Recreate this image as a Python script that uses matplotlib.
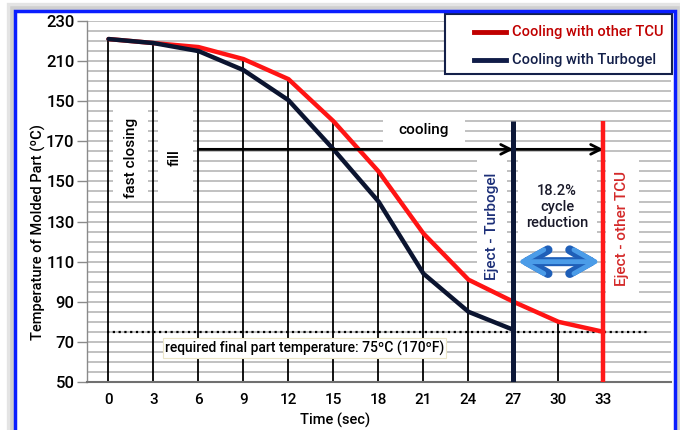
import matplotlib
matplotlib.use('Agg')
import matplotlib.pyplot as plt
from matplotlib.patches import Rectangle
from matplotlib.lines import Line2D

plt.rcParams['font.family'] = ['Roboto', 'DejaVu Sans']
FW = 'medium'

# ---------------- data ----------------
time_s = [0, 3, 6, 9, 12, 15, 18, 21, 24, 27, 30, 33]
other_tcu = [221, 219, 217, 211, 201, 180, 155, 124, 101, 90, 80, 75]
turbogel_t = [0, 3, 6, 9, 12, 15, 18, 21, 24, 27]
turbogel = [221, 219, 215, 205.5, 190.5, 166, 140, 104, 85, 76]
ytick_vals = [50, 70, 90, 110, 130, 150, 170, 190, 210, 230]
ytick_labels = ['50', '70', '90', '110', '130', '150', '170', '150', '210', '230']
xtick_labels = [str(t) for t in time_s]
required_temp = 75
eject_turbogel = 27
eject_other = 33
eject_top = 180
cooling_start = 6
cooling_level = 166
arrow_level = 110

W, H = 680, 430
fig = plt.figure(figsize=(W / 100, H / 100), dpi=100)
fig.patch.set_facecolor('white')

def fx(p):
    return p / W

def fy(p):
    return 1 - p / H

ax = fig.add_axes([fx(87), fy(382), (671 - 87) / W, (382 - 21) / H])
ax.set_xlim(-1.433, 37.5)
ax.set_ylim(50, 230)
ax.set_axisbelow(True)

# grid
ax.set_yticks(ytick_vals)
ax.set_yticklabels(ytick_labels)
ax.set_yticks(list(range(50, 231, 5)), minor=True)
ax.grid(which='both', axis='y', color='#bcbcbc', lw=1.3)
ax.grid(False, axis='x')

ax.set_xticks(time_s)
ax.set_xticklabels(xtick_labels)

for s in ['top', 'right']:
    ax.spines[s].set_visible(False)
ax.spines['left'].set_color('#8a8a8a')
ax.spines['left'].set_linewidth(1.0)
ax.spines['bottom'].set_color('#707070')
ax.spines['bottom'].set_linewidth(1.5)

ax.tick_params(axis='y', which='major', length=7, width=1, color='#8a8a8a',
               pad=2, labelsize=12)
ax.tick_params(axis='y', which='minor', length=0)
ax.tick_params(axis='x', length=0, pad=8, labelsize=11)
for lab in ax.get_yticklabels() + ax.get_xticklabels():
    lab.set_fontweight(FW)

# white boxes behind annotations (break the grid)
boxes = [
    (0.3, 142.2, 2.33, 44.9),
    (3.3, 142.2, 2.33, 44.9),
    (18.3, 169.2, 5.5, 12.9),
    (24.6, 95.9, 2.0, 64.8),
    (27.3, 120.8, 5.3, 39.9),
    (33.2, 93.4, 2.2, 67.3),
]
for (x0, y0, w, h) in boxes:
    ax.add_patch(Rectangle((x0, y0), w, h, facecolor='white', edgecolor='none', zorder=1))

# drop lines
drop_t = [t for t in time_s if t not in (eject_turbogel, eject_other)]
drop_v = [v for t, v in zip(time_s, other_tcu) if t not in (eject_turbogel, eject_other)]
ax.vlines(drop_t, 50, drop_v, color='black', lw=1.3, zorder=2)

# required temperature dotted line
ax.hlines(required_temp, -0.1, 36, color='black', linestyles=(0, (1, 1.6)), lw=1.6, zorder=3)

# curves
ax.plot(time_s, other_tcu, color='#ff1414', lw=3.2, zorder=4, solid_capstyle='round')
ax.plot(turbogel_t, turbogel, color='#0b1430', lw=3.2, zorder=5, solid_capstyle='round')

# eject lines
ax.vlines(eject_turbogel, 50, eject_top, color='#0d1838', lw=3.6, zorder=6)
ax.vlines(eject_other, 50, eject_top, color='#ff1a1a', lw=3.2, zorder=6)

# cooling arrows
for a, b in [(cooling_start, eject_turbogel), (eject_turbogel, eject_other)]:
    ax.annotate('', xy=(b, cooling_level), xytext=(a, cooling_level),
                arrowprops=dict(arrowstyle='->,head_length=0.7,head_width=0.35',
                                lw=2, color='black', shrinkA=0, shrinkB=0), zorder=5)

# blue double arrow
for lw, col in [(6.5, '#1f5fb8'), (3.5, '#4b9ce8')]:
    ax.annotate('', xy=(32.75, arrow_level), xytext=(27.3, arrow_level),
                arrowprops=dict(arrowstyle='<->,head_length=1.5,head_width=0.85',
                                lw=lw, color=col, shrinkA=0, shrinkB=0,
                                joinstyle='round', capstyle='round'), zorder=7)

# texts
ax.text(1.5, 161.7, 'fast closing', rotation=90, ha='center', va='center',
        fontsize=11, fontweight=FW, color='black', zorder=8)
ax.text(4.43, 161.7, 'fill', rotation=90, ha='center', va='center',
        fontsize=11, fontweight=FW, color='black', zorder=8)
ax.text(21.0, 175.6, 'cooling', ha='center', va='center',
        fontsize=11, fontweight=FW, color='black', zorder=8)
ax.text(25.57, 127.8, 'Eject - Turbogel', rotation=90, ha='center', va='center',
        fontsize=11, fontweight=FW, color='#1c2f78', zorder=8)
ax.text(34.23, 126.3, 'Eject - other TCU', rotation=90, ha='center', va='center',
        fontsize=11, fontweight=FW, color='#d42a2a', zorder=8)
ax.text(29.9, 137.3, '18.2%\ncycle\nreduction', ha='center', va='center',
        fontsize=10.5, fontweight=FW, color='#1a1a2a', linespacing=1.2, zorder=8)
ax.text(3.75, 67, 'required final part temperature: 75ºC (170ºF)', ha='left', va='center',
        fontsize=10, fontweight=FW, color='black', zorder=8,
        bbox=dict(boxstyle='square,pad=0.15', facecolor='white', edgecolor='#ece6c8', lw=0.8))

fig.text(fx(38), fy(232), 'Temperature of Molded Part (ºC)', rotation=90, ha='center',
         va='center', fontsize=10.5, fontweight=FW, color='black')
fig.text(fx(335), fy(420), 'Time (sec)', ha='center', va='center',
         fontsize=10.5, fontweight=FW, color='black')

# legend (drawn as a framed key)
fig.add_artist(Rectangle((fx(445), fy(74)), (672 - 445) / W, 60 / H, transform=fig.transFigure,
                         facecolor='white', edgecolor='#14204a', lw=1.5, zorder=10))
legend_items = [('Cooling with other TCU', '#c00000', '#c00000', 32),
                ('Cooling with Turbogel', '#101c48', '#14204a', 60)]
for label, lc, tc, yy in legend_items:
    fig.add_artist(Line2D([fx(474), fx(506)], [fy(yy), fy(yy)], color=lc, lw=3.5,
                          transform=fig.transFigure, zorder=11))
    fig.text(fx(512), fy(yy), label, ha='left', va='center', fontsize=10.5,
             fontweight=FW, color=tc, zorder=11)

# frame with soft shadow
for off, lw, col in [(4, 6, '#e4e4e4'), (2, 4, '#cfcfcf')]:
    fig.add_artist(Rectangle((fx(15 - off), -0.1), (660 + 2 * off) / W, 1 - (11 - off) / H + 0.1,
                             transform=fig.transFigure, facecolor='none', edgecolor=col,
                             lw=lw, zorder=0))
fig.add_artist(Rectangle((fx(15), -0.1), 660 / W, 1 - 11 / H + 0.1, transform=fig.transFigure,
                         facecolor='none', edgecolor='#0a1eff', lw=2.5, zorder=12))

fig.savefig('out.png', dpi=100)
